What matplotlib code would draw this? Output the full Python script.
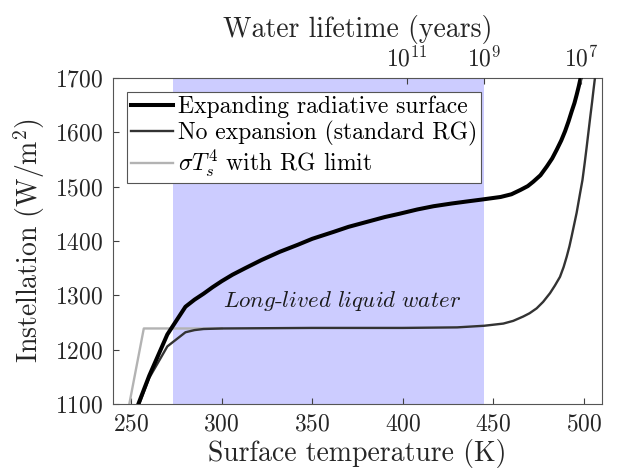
import matplotlib
matplotlib.use("Agg")
import matplotlib.pyplot as plt

plt.rcParams['font.family'] = 'serif'
plt.rcParams['font.serif'] = ['cmr10']
plt.rcParams['mathtext.fontset'] = 'cm'
plt.rcParams['axes.formatter.use_mathtext'] = True

# Expanding radiative surface
T_exp = [254, 260, 270, 280, 285, 290, 295, 300, 306, 313, 322, 332, 342, 350, 362,
         370, 380, 390, 398, 408, 417, 427, 436, 443, 454, 460, 465, 469, 472, 476,
         479.5, 482.5, 485, 487.5, 489.6, 491.5, 493.3, 494.8, 496, 497.2, 498.2]
S_exp = [1100, 1152, 1228, 1279, 1292, 1303, 1315, 1326, 1338, 1350, 1365, 1380, 1393, 1404, 1417,
         1426, 1435, 1444, 1450, 1458, 1464, 1469, 1473, 1476, 1481, 1486, 1494, 1501, 1509, 1521,
         1537, 1552, 1568, 1585, 1602, 1620, 1639, 1654, 1669, 1685, 1700]

# No expansion (standard RG)
T_std = [254.5, 260, 270, 280, 285, 290, 300, 350, 400, 430, 445, 455.5, 461, 466.5, 470,
         473.9, 477.5, 481.3, 484, 486.8, 488.8, 490.5, 492, 493.2, 494.6, 496, 497.9,
         499.2, 500.5, 501.5, 502.5, 503.5, 504.5, 505.3, 506.1]
S_std = [1100, 1148, 1206, 1232, 1236, 1238, 1239, 1240, 1240, 1241, 1244, 1248, 1253, 1261, 1267,
         1276, 1288, 1304, 1318, 1334, 1352, 1371, 1390, 1408, 1430, 1452, 1488,
         1512, 1545, 1572, 1600, 1628, 1655, 1678, 1700]

# sigma T^4 with RG limit
T_sig = [249, 257, 300]
S_sig = [1100, 1239, 1239]

liquid_range = [273, 444.8]
lifetime_T = [402.3, 444.8, 498.4]
lifetime_labels = [r'$10^{11}$', r'$10^{9}$', r'$10^{7}$']

xticks = [250, 300, 350, 400, 450, 500]
yticks = [1100, 1200, 1300, 1400, 1500, 1600, 1700]

fig = plt.figure(figsize=(6.23, 4.75), dpi=100)
ax = fig.add_axes([0.1814, 0.1495, 0.7849, 0.6863])

ax.axvspan(liquid_range[0], liquid_range[1], color='#ccccff', lw=0, zorder=0)
ax.plot(T_sig, S_sig, color='#b3b3b3', lw=1.7, label=r'$\sigma T_s^4$ with RG limit', zorder=2)
ax.plot(T_std, S_std, color='#333333', lw=1.7, label='No expansion (standard RG)', zorder=3)
ax.plot(T_exp, S_exp, color='black', lw=2.9, label='Expanding radiative surface', zorder=4)

ax.set_xlim(240, 510)
ax.set_ylim(1100, 1700)
ax.set_xticks(xticks)
ax.set_yticks(yticks)
ax.tick_params(direction='in', length=4, width=0.8, colors='#404040', labelcolor='#262626',
               labelsize=17, pad=7, top=False, right=False)
for s in ax.spines.values():
    s.set_color('#555555')
    s.set_linewidth(0.8)

ax.set_xlabel('Surface temperature (K)', fontsize=20, color='#262626', labelpad=2)
ax.set_ylabel(r'Instellation (W/m$^2$)', fontsize=20, color='#262626', labelpad=6)

ax.text(300.7, 1290, r'$\mathit{Long}$-$\mathit{lived\ liquid\ water}$', fontsize=16.5,
        color='#1a1a1a', va='center', ha='left', zorder=5)

h, l = ax.get_legend_handles_labels()
order = [2, 1, 0]
leg = ax.legend([h[i] for i in order], [l[i] for i in order], loc='upper left',
                bbox_to_anchor=(0.0286, 0.957), borderaxespad=0, fontsize=17,
                fancybox=False, framealpha=1, edgecolor='#555555',
                handlelength=1.8, handletextpad=0.2, labelspacing=0.1, borderpad=0.15)
leg.get_frame().set_linewidth(0.8)
leg.set_zorder(6)

ax2 = ax.twiny()
ax2.set_xlim(ax.get_xlim())
ax2.set_xticks(lifetime_T)
ax2.set_xticklabels(lifetime_labels)
ax2.tick_params(direction='in', length=4, width=0.8, colors='#404040', labelcolor='#262626',
                labelsize=17, pad=5)
for s in ax2.spines.values():
    s.set_visible(False)
ax2.set_xlabel('Water lifetime (years)', fontsize=20, color='#262626', labelpad=6)

fig.savefig('out.png', dpi=100)
